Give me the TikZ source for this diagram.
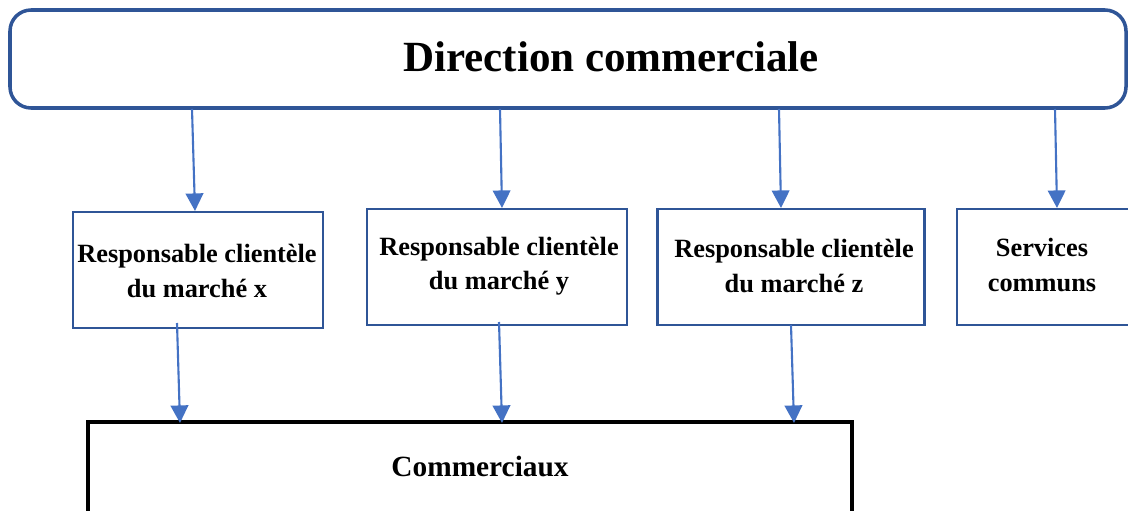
\documentclass[tikz,border=0pt]{standalone}
\usepackage{fontspec}
\setmainfont{Liberation Serif}
\usetikzlibrary{arrows.meta}
\definecolor{cadre}{HTML}{2F5597}
\definecolor{fleche}{HTML}{4472C4}
\tikzset{
  boite/.style={draw=cadre,line width=1.3pt,minimum height=116*0.02cm},
  texte/.style={align=center,font=\fontsize{15}{19.5}\selectfont\bfseries},
  lien/.style={draw=fleche,line width=1.2pt,-{Triangle[length=10pt,width=10pt]}}
}
\begin{document}
\begin{tikzpicture}
[x=0.02cm,y=-0.02cm]
 \useasboundingbox (0,0) rectangle (1128,510);
 \node (DC) [draw=cadre,line width=2pt,rounded corners=12pt,minimum width=1116*0.02cm,minimum height=98*0.02cm] at (568,59) {};
 \node (DCt) at (611,57) [font=\fontsize{24.5}{28}\selectfont\bfseries] {Direction commerciale};
 \node (RX) [boite,minimum width=250*0.02cm] at (198,270) {};
 \node (RY) [boite,minimum width=260*0.02cm] at (497,267) {};
 \node (RZ) [boite,minimum width=267*0.02cm] at (791,267) {};
 \node (SC) [boite,minimum width=180*0.02cm] at (1047,267) {};
 \node (RXt) [texte] at (197,271) {Responsable clientèle\\du marché x};
 \node (RYt) [texte] at (499,266) {Responsable clientèle\\du marché y};
 \node (RZt) [texte] at (794,266) {Responsable clientèle\\du marché z};
 \node (SCt) [texte] at (1042,265) {Services\\communs};
 \node (CO) [draw,line width=2.2pt,minimum width=764*0.02cm,minimum height=110*0.02cm] at (470,477) {};
 \node (COt) at (480,466) [font=\fontsize{16.7}{20}\selectfont\bfseries] {Commerciaux};

 % points de depart
 \coordinate (d1) at (192,109);
 \coordinate (d2) at (500,109);
 \coordinate (d3) at (779,109);
 \coordinate (d4) at (1055,109);
 \coordinate (a1) at (195,211);
 \coordinate (a2) at (502,208);
 \coordinate (a3) at (781,208);
 \coordinate (a4) at (1057,208);
 \draw[lien] (d1) -- (a1);
 \draw[lien] (d2) -- (a2);
 \draw[lien] (d3) -- (a3);
 \draw[lien] (d4) -- (a4);

 \coordinate (e1) at (177,323);
 \coordinate (e2) at (499,322);
 \coordinate (e3) at (791,325);
 \coordinate (f1) at (180,423);
 \coordinate (f2) at (502,423);
 \coordinate (f3) at (794,423);
 \draw[lien] (e1) -- (f1);
 \draw[lien] (e2) -- (f2);
 \draw[lien] (e3) -- (f3);
\end{tikzpicture}
\end{document}
